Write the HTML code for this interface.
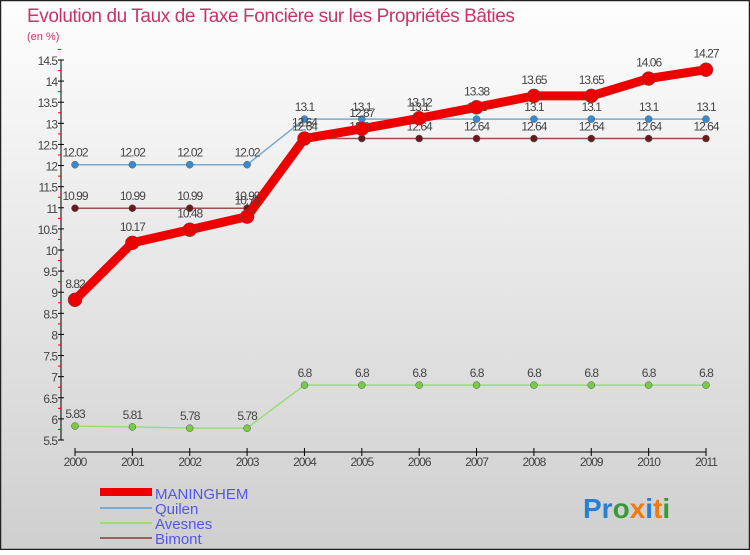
<!DOCTYPE html>
<html><head><meta charset="utf-8"><style>
body{margin:0;width:750px;height:550px;overflow:hidden;font-family:"Liberation Sans",sans-serif}
</style></head><body>
<svg id="chart" width="750" height="550" xmlns="http://www.w3.org/2000/svg" font-family="Liberation Sans, sans-serif">
<defs><linearGradient id="bg" x1="0" y1="0" x2="0" y2="1"><stop offset="0" stop-color="#fefefe"/><stop offset="1" stop-color="#cfcfcf"/></linearGradient></defs>
<rect x="0.5" y="0.5" width="749" height="549" fill="url(#bg)" stroke="#222" stroke-width="1.5"/>
<text x="27" y="22" font-size="19" fill="#c8346a" letter-spacing="-0.4">Evolution du Taux de Taxe Foncière sur les Propriétés Bâties</text>
<text x="27" y="40" font-size="11" fill="#c8346a">(en %)</text>
<g id="axes"></g><g id="series"></g>
<g>
<rect x="100" y="488" width="52" height="8" fill="#e00"/>
<text x="155" y="499" font-size="15" fill="#5555ee">MANINGHEM</text>
<line x1="100" y1="508" x2="152" y2="508" stroke="#7aaad0" stroke-width="2"/>
<text x="155" y="514" font-size="15" fill="#5555ee">Quilen</text>
<line x1="100" y1="523" x2="152" y2="523" stroke="#99dd77" stroke-width="2"/>
<text x="155" y="529" font-size="15" fill="#5555ee">Avesnes</text>
<line x1="100" y1="538" x2="152" y2="538" stroke="#9a6060" stroke-width="2"/>
<text x="155" y="544" font-size="15" fill="#5555ee">Bimont</text>
</g>
<text x="583" y="518" font-size="28" font-weight="bold"><tspan fill="#2a7fd0">Pr</tspan><tspan fill="#3a9a3a">o</tspan><tspan fill="#f07a10">x</tspan><tspan fill="#2a7fd0">i</tspan><tspan fill="#f07a10">t</tspan><tspan fill="#3a9a3a">i</tspan></text>
</svg>
<script>
const years=[2000,2001,2002,2003,2004,2005,2006,2007,2008,2009,2010,2011];
const maninghem=[8.82,10.17,10.48,10.79,12.64,12.87,13.12,13.38,13.65,13.65,14.06,14.27];
const quilen=[12.02,12.02,12.02,12.02,13.1,13.1,13.1,13.1,13.1,13.1,13.1,13.1];
const avesnes=[5.83,5.81,5.78,5.78,6.8,6.8,6.8,6.8,6.8,6.8,6.8,6.8];
const bimont=[10.99,10.99,10.99,10.99,12.64,12.64,12.64,12.64,12.64,12.64,12.64,12.64];
const yTicks=[5.5,6,6.5,7,7.5,8,8.5,9,9.5,10,10.5,11,11.5,12,12.5,13,13.5,14,14.5];
const NS="http://www.w3.org/2000/svg";
const x=i=>75+i*(706-75)/11;
const y=v=>440-(v-5.5)*(380/9);
function mk(t,a,p){const e=document.createElementNS(NS,t);for(const k in a)e.setAttribute(k,a[k]);p.appendChild(e);return e;}
const ax=document.getElementById('axes');
const yl=mk('line',{x1:61,y1:60,x2:61,y2:440,stroke:'#000'},ax);


yTicks.forEach(v=>{
 mk('line',{x1:58,y1:y(v),x2:64,y2:y(v),stroke:'#000'},ax);
 mk('line',{x1:58,y1:y(v+0.25),x2:61,y2:y(v+0.25),stroke:'#e00'},ax);
 const t=mk('text',{x:57,y:y(v)+5,'text-anchor':'end','font-size':12,fill:'#444','letter-spacing':'-1'},ax);
 t.textContent=String(v);
 
 
});
const xl=mk('line',{x1:x(0),y1:452,x2:x(11),y2:452,stroke:'#000'},ax);


years.forEach((yr,i)=>{
 mk('line',{x1:x(i),y1:448,x2:x(i),y2:456,stroke:'#000'},ax);
 const t=mk('text',{x:x(i),y:466,'text-anchor':'middle','font-size':12,fill:'#444','letter-spacing':'-1'},ax);
 t.textContent=String(yr);
 
 
});
const sg=document.getElementById('series');
function series(name,data,color,lw,r,dot){
 const g=mk('g',{},sg);
 
 
 const p=mk('polyline',{points:data.map((v,i)=>x(i)+','+y(v)).join(' '),fill:'none',stroke:color,'stroke-width':lw,'stroke-linejoin':'round'},g);
 data.forEach((v,i)=>{
  const c=mk('circle',{cx:x(i),cy:y(v),r:r,fill:dot,stroke:'#555','stroke-width':0.5},g);
  
  
  const t=mk('text',{x:x(i),y:y(v)-8-(r>4?4:0),'text-anchor':'middle','font-size':12,fill:'#444','letter-spacing':'-1'},g);
  t.textContent=String(v);
  
  
 });
}
series('quilen',quilen,'#7aaad0',1.5,3.5,'#3a8ad0');
series('bimont',bimont,'#9a5050',1.5,3.5,'#6a1a1a');
series('avesnes',avesnes,'#99dd77',1.5,3.5,'#77cc44');
series('maninghem',maninghem,'#ee0000',9,7,'#ee0000');
</script>
</body></html>
